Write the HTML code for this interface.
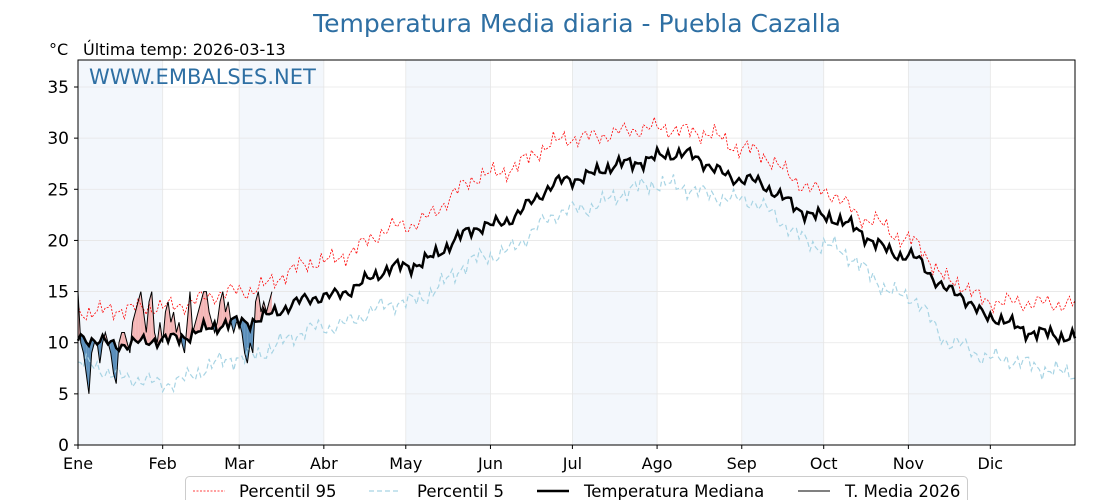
<!DOCTYPE html>
<html><head><meta charset="utf-8"><style>
html,body{margin:0;padding:0;background:#fff;width:1120px;height:500px;overflow:hidden}
svg{display:block;font-family:"DejaVu Sans","Liberation Sans",sans-serif}
</style></head><body>
<svg id="s" width="1120" height="500" xmlns="http://www.w3.org/2000/svg"></svg>
<script>
const L=78,R=1075,T=60,B=445;
const X=d=>L+d*(R-L)/365, Y=v=>B-v*(B-87)/35;
let h='';
const months=['Ene','Feb','Mar','Abr','May','Jun','Jul','Ago','Sep','Oct','Nov','Dic'];
const md=[0,31,59,90,120,151,181,212,243,273,304,334,365];
for(let i=0;i<12;i+=2)h+=`<rect x="${X(md[i])}" y="${T}" width="${X(md[i+1])-X(md[i])}" height="${B-T}" fill="#f3f7fc"/>`;
for(let v=0;v<=35;v+=5)h+=`<line x1="${L}" x2="${R}" y1="${Y(v)}" y2="${Y(v)}" stroke="#e6e6e6" stroke-width="0.8"/>`;
for(let i=0;i<12;i++)h+=`<line x1="${X(md[i])}" x2="${X(md[i])}" y1="${T}" y2="${B}" stroke="#e6e6e6" stroke-width="0.8"/>`;
function interp(k,d){for(let i=0;i<k.length-1;i++){if(d>=k[i][0]&&d<=k[i+1][0]){let t=(d-k[i][0])/(k[i+1][0]-k[i][0]);t=(1-Math.cos(t*Math.PI))/2;return k[i][1]+t*(k[i+1][1]-k[i][1]);}}return k[k.length-1][1];}
function noise(d,s,a){return a*(Math.sin(d*1.7+s)*0.5+Math.sin(d*3.1+s*2)*0.3+Math.sin(d*0.53+s*3)*0.4);}
const med=[[0,10.5],[15,9.8],[31,10.3],[59,12],[90,14.5],[120,17.5],[151,21.5],[181,26],[200,27.5],[220,28.5],[243,26],[273,22.3],[304,18.5],[320,15],[334,12.5],[350,11],[365,10.5]];
const p95=[[0,13],[31,13.5],[59,15],[90,18],[120,21.5],[151,26.5],[181,30],[212,31],[230,30.5],[243,29],[273,24.8],[290,22],[304,20],[320,16],[334,14],[365,13.8]];
const p5=[[0,8],[20,6.5],[31,6],[59,8.5],[90,11.5],[120,14],[151,18.5],[181,23],[212,25.5],[243,24],[273,19.5],[304,14.5],[320,10],[334,8.5],[365,7]];
function path(k,s,a){let p='';for(let d=0;d<=365;d++){p+=(d?'L':'M')+X(d).toFixed(1)+','+Y(interp(k,d)+noise(d,s,a)).toFixed(1);}return p;}
const t26=[15,10,9,7,5,9,10,10,8,10,11,10,9,7,6,10,11,11,10,9,12,13,14,15,13,11,14,15,11,10,12,
10,13,14,12,13,11,12,10,9,12,15,11,12,13,14,15,15,13,12,11,12,14,15,13,14,12,11,12,
12,11,9,8,10,9,14,15,13,14,13,14,15];
const mv=d=>interp(med,d)+noise(d,5,0.8);
for(let d=0;d<t26.length-1;d++){
 let a=t26[d]-mv(d),b=t26[d+1]-mv(d+1);
 const seg=(d0,d1,c)=>{let pts=[[d0,t26[d]+(t26[d+1]-t26[d])*(d0-d)],[d1,t26[d]+(t26[d+1]-t26[d])*(d1-d)]];
  let q=`${X(pts[0][0])},${Y(pts[0][1])} ${X(pts[1][0])},${Y(pts[1][1])} ${X(d1)},${Y(mv(d)+(mv(d+1)-mv(d))*(d1-d))} ${X(d0)},${Y(mv(d)+(mv(d+1)-mv(d))*(d0-d))}`;
  h+=`<polygon points="${q}" fill="${c}"/>`;};
 if(a*b>=0)seg(d,d+1,(a+b)>0?'#f4b6b6':'#5b8fbb');
 else{let c=d+a/(a-b);seg(d,c,a>0?'#f4b6b6':'#5b8fbb');seg(c,d+1,b>0?'#f4b6b6':'#5b8fbb');}
}
h+=`<path d="${path(p95,1,1.0)}" fill="none" stroke="#f00" stroke-width="0.8" stroke-dasharray="2,1.5"/>`;
h+=`<path d="${path(p5,2,1.0)}" fill="none" stroke="#a8d4e4" stroke-width="1.2" stroke-dasharray="5,3"/>`;
h+=`<path d="${path(med,5,0.8)}" fill="none" stroke="#000" stroke-width="2.5"/>`;
let p='';t26.forEach((v,d)=>p+=(d?'L':'M')+X(d)+','+Y(v));
h+=`<path d="${p}" fill="none" stroke="#000" stroke-width="1"/>`;
h+=`<rect x="${L}" y="${T}" width="${R-L}" height="${B-T}" fill="none" stroke="#000" stroke-width="1"/>`;
for(let v=0;v<=35;v+=5)h+=`<line x1="${L-4}" x2="${L}" y1="${Y(v)}" y2="${Y(v)}" stroke="#000"/><text x="${L-9}" y="${Y(v)+6}" font-size="17" text-anchor="end">${v}</text>`;
for(let i=0;i<12;i++)h+=`<line x1="${X(md[i])}" x2="${X(md[i])}" y1="${B}" y2="${B+4}" stroke="#000"/><text x="${X(md[i])}" y="${B+24}" font-size="16" text-anchor="middle">${months[i]}</text>`;
h+=`<text x="577" y="32" font-size="25" fill="#2e6fa3" text-anchor="middle">Temperatura Media diaria - Puebla Cazalla</text>`;
h+=`<text x="49" y="55" font-size="16">°C</text><text x="83" y="55" font-size="16">Última temp: 2026-03-13</text>`;
h+=`<text x="89" y="84" font-size="21" fill="#2e6fa3">WWW.EMBALSES.NET</text>`;
h+=`<rect x="185.5" y="476.5" width="782" height="30" rx="4" fill="#fff" stroke="#ccc"/>`;
h+=`<line x1="193" x2="225" y1="491" y2="491" stroke="#f00" stroke-dasharray="2,1.5" stroke-width="0.8"/><text x="239" y="497" font-size="16.5">Percentil 95</text>`;
h+=`<line x1="369" x2="401" y1="491" y2="491" stroke="#a8d4e4" stroke-dasharray="5,3" stroke-width="1.2"/><text x="417" y="497" font-size="16.5">Percentil 5</text>`;
h+=`<line x1="537" x2="569" y1="491" y2="491" stroke="#000" stroke-width="2.5"/><text x="584" y="497" font-size="16.5">Temperatura Mediana</text>`;
h+=`<line x1="798" x2="830" y1="491" y2="491" stroke="#000" stroke-width="1"/><text x="845" y="497" font-size="16.5">T. Media 2026</text>`;
document.getElementById('s').innerHTML=h;
</script>
</body></html>
